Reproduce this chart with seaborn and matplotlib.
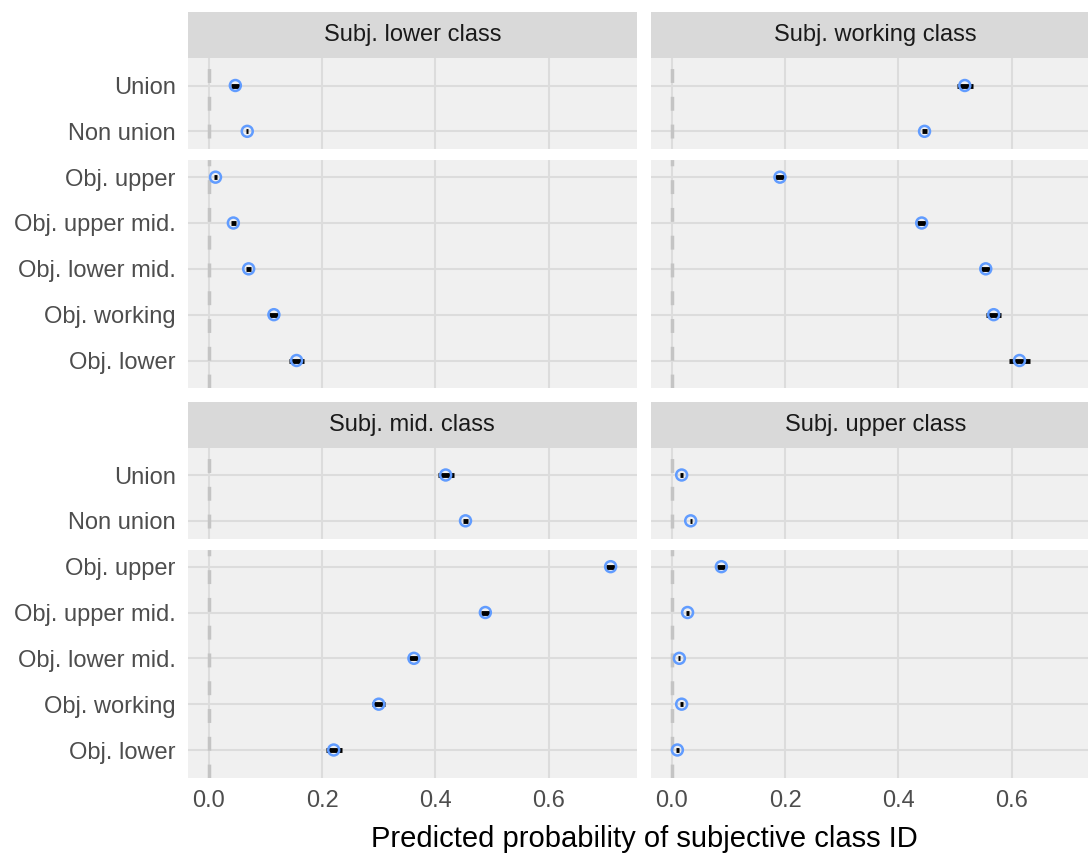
import numpy as np
import pandas as pd
import matplotlib.pyplot as plt
import seaborn as sns

# Row labels (top to bottom) and facet titles
rows = ["Union", "Non union", "Obj. upper", "Obj. upper mid.",
        "Obj. lower mid.", "Obj. working", "Obj. lower"]
facets = ["Subj. lower class", "Subj. working class",
          "Subj. mid. class", "Subj. upper class"]

# Predicted probabilities and half-widths of the intervals
lower_est = [0.047, 0.068, 0.012, 0.0435, 0.0705, 0.115, 0.155]
lower_err = [0.0085, 0.002, 0.002, 0.004, 0.005, 0.009, 0.014]
working_est = [0.517, 0.446, 0.191, 0.441, 0.554, 0.568, 0.6135]
working_err = [0.014, 0.004, 0.008, 0.008, 0.008, 0.013, 0.018]
mid_est = [0.418, 0.453, 0.709, 0.488, 0.362, 0.300, 0.2205]
mid_err = [0.014, 0.004, 0.008, 0.008, 0.008, 0.0115, 0.014]
upper_est = [0.0176, 0.0335, 0.0876, 0.028, 0.0135, 0.0176, 0.010]
upper_err = [0.003, 0.002, 0.007, 0.003, 0.002, 0.003, 0.003]

x_ticks = [0.0, 0.2, 0.4, 0.6]
x_labels = ["0.0", "0.2", "0.4", "0.6"]

frames = []
for name, est, err in zip(facets,
                          [lower_est, working_est, mid_est, upper_est],
                          [lower_err, working_err, mid_err, upper_err]):
    frames.append(pd.DataFrame({"facet": name, "row": rows,
                                "pos": np.arange(len(rows)),
                                "prob": est, "err": err}))
df = pd.concat(frames, ignore_index=True)
df["lo"] = df["prob"] - df["err"]
df["hi"] = df["prob"] + df["err"]

sns.set_theme(style="white")
plt.rcParams["font.family"] = ["Liberation Sans", "DejaVu Sans"]

W, H = 1088, 856
fig = plt.figure(figsize=(W / 100, H / 100), dpi=100)


def rect(x0, top, w, h):
    return [x0 / W, 1 - (top + h) / H, w / W, h / H]


panel_w = 448.7
cols_x = [188, 651]
rows_top = [12, 401.5]
strip_h, panel_h = 46, 330

for i, name in enumerate(facets):
    r, c = divmod(i, 2)
    x0, top = cols_x[c], rows_top[r]

    # facet strip
    sax = fig.add_axes(rect(x0, top, panel_w, strip_h))
    sax.set_facecolor("#D9D9D9")
    sax.set_xticks([])
    sax.set_yticks([])
    for s in sax.spines.values():
        s.set_visible(False)
    sax.text(0.5, 0.5, name, ha="center", va="center", fontsize=17,
             color="#1A1A1A", transform=sax.transAxes)

    ax = fig.add_axes(rect(x0, top + strip_h, panel_w, panel_h))
    ax.set_facecolor("#F0F0F0")
    for s in ax.spines.values():
        s.set_visible(False)
    ax.grid(True, color="#DCDCDC", lw=1.5, zorder=0)
    ax.set_axisbelow(True)

    sub = df[df["facet"] == name]
    ax.axvline(0, color="#C4C4C4", lw=2.5, ls=(0, (4, 4)), zorder=1)
    ax.axhline(1.5, color="white", lw=8, zorder=2)
    ax.hlines(sub["pos"], sub["lo"], sub["hi"], color="black", lw=3.5,
              capstyle="butt", zorder=3)
    sns.scatterplot(data=sub, x="prob", y="pos", ax=ax, s=62,
                    color="none", edgecolor="#619CFF", linewidth=1.8,
                    zorder=4, legend=False)

    ax.set_xlim(-0.0365, 0.755)
    ax.set_ylim(6.6, -0.6)
    ax.set_xticks(x_ticks)
    ax.set_yticks(np.arange(len(rows)))
    ax.tick_params(length=0, labelsize=17, labelcolor="#4D4D4D", pad=9)
    if r == 1:
        ax.set_xticklabels(x_labels)
    else:
        ax.set_xticklabels([])
    if c == 0:
        ax.set_yticklabels(rows)
    else:
        ax.set_yticklabels([])
    ax.set_xlabel("")
    ax.set_ylabel("")

fig.text(643.9 / W, 1 - 839 / H, "Predicted probability of subjective class ID",
         ha="center", va="center", fontsize=21, color="black")

fig.savefig("out.png", dpi=100)
